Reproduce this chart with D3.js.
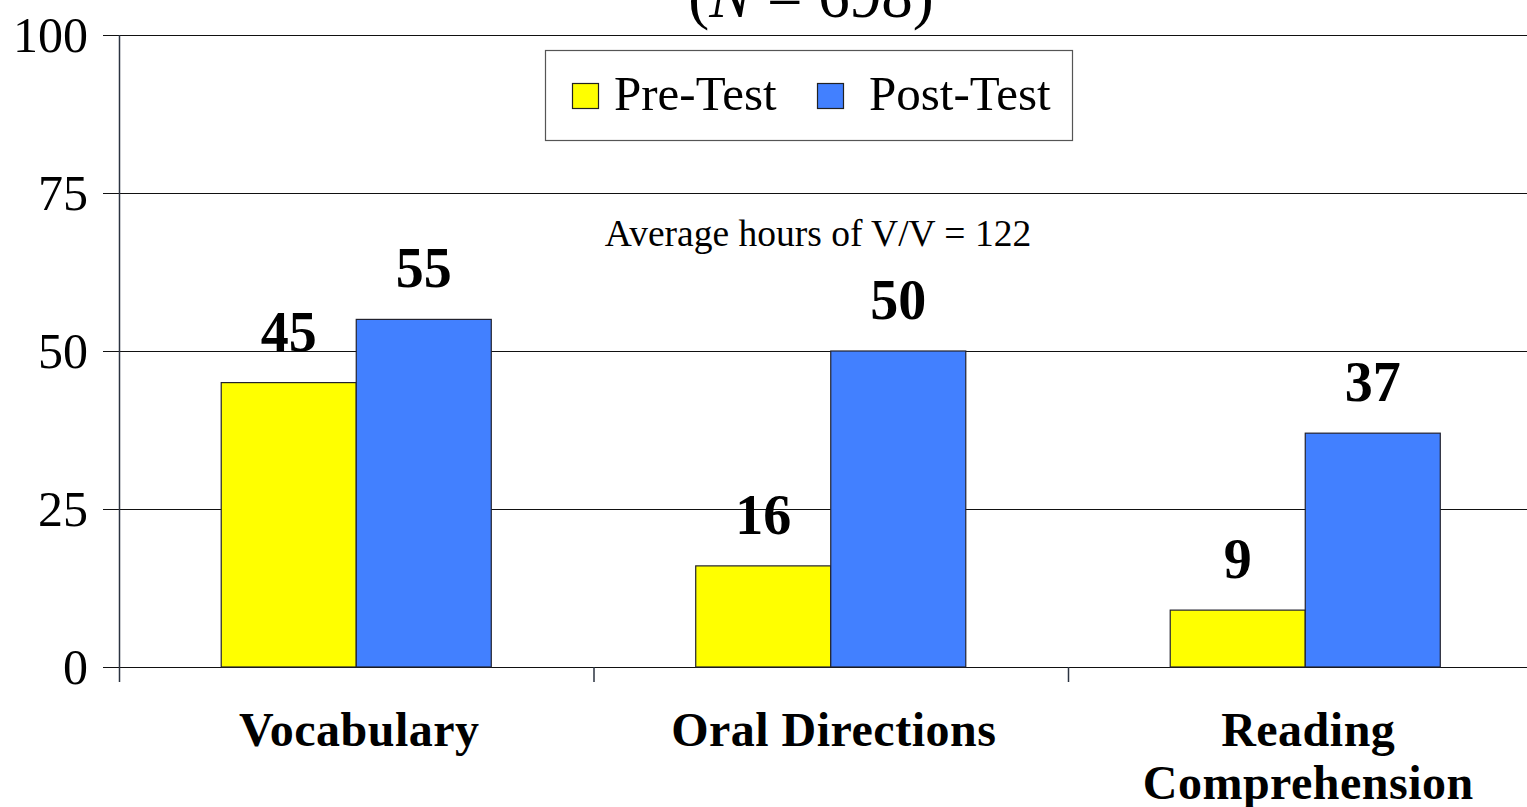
<!DOCTYPE html>
<html><head><meta charset="utf-8">
<script src="https://cdn.jsdelivr.net/npm/d3@7"></script>
<style>
html,body{margin:0;padding:0;background:#fff;overflow:hidden}
svg{display:block;font-family:"Liberation Serif","Times New Roman",serif}
</style></head>
<body><svg id="c" width="1527" height="807"></svg>
<script>
const categories = ["Vocabulary", "Oral Directions", "Reading\nComprehension"];
const series = ["Pre-Test", "Post-Test"];
const preTest = [45, 16, 9];
const postTest = [55, 50, 37];
const yTicks = [0, 25, 50, 75, 100];
const colors = ["#ffff00", "#4280ff"];
const note = "Average hours of V/V = 122";

(function () {
const svg = d3.select("#c");
const mLeft = 119, mTop = 35, mBottom = 667, step = 474.5;
const x = d3.scaleBand().domain(categories).range([mLeft, mLeft + step * categories.length]).padding(0);
const xs = d3.scaleBand().domain(series).range([0, x.bandwidth()]).paddingInner(0).paddingOuter(0.757);
const y = d3.scaleLinear().domain([0, 100]).range([mBottom, mTop]);

// title (partially cut off, as in the reference)
const t = svg.append("text").attr("x", 811).attr("y", 17).attr("text-anchor", "middle")
  .attr("font-size", 63);
t.append("tspan").text("(");
t.append("tspan").attr("font-style", "italic").text("N");
t.append("tspan").text(" = 698)");

// gridlines
svg.append("g").selectAll("line").data(yTicks).join("line")
  .attr("x1", mLeft - 16).attr("x2", 1527)
  .attr("y1", d => Math.round(y(d)) + 0.5).attr("y2", d => Math.round(y(d)) + 0.5)
  .attr("stroke", "#111").attr("stroke-width", 1.2);

// y tick labels
svg.append("g").selectAll("text").data(yTicks).join("text")
  .attr("x", 88).attr("y", d => y(d)).attr("dy", "0.33em")
  .attr("text-anchor", "end").attr("font-size", 50).text(d => d);

// bars
const data = [];
categories.forEach((c, i) => {
  data.push({c, s: series[0], v: preTest[i], k: 0});
  data.push({c, s: series[1], v: postTest[i], k: 1});
});
svg.append("g").selectAll("rect").data(data).join("rect")
  .attr("x", d => x(d.c) + xs(d.s)).attr("width", xs.bandwidth())
  .attr("y", d => y(d.v)).attr("height", d => y(0) - y(d.v))
  .attr("fill", d => colors[d.k]).attr("stroke", "#22222e").attr("stroke-width", 1.2);

// value labels
svg.append("g").selectAll("text").data(data).join("text")
  .attr("x", d => x(d.c) + xs(d.s) + xs.bandwidth() / 2)
  .attr("y", d => y(d.v) - 32)
  .attr("text-anchor", "middle").attr("font-size", 56).attr("font-weight", "bold")
  .text(d => d.v);

// axes lines
svg.append("line").attr("x1", mLeft + 0.5).attr("x2", mLeft + 0.5).attr("y1", mTop).attr("y2", mBottom + 15)
  .attr("stroke", "#2b3340").attr("stroke-width", 1.5);
svg.append("g").selectAll("line").data(categories.slice(1)).join("line")
  .attr("x1", d => x(d) + 0.5).attr("x2", d => x(d) + 0.5)
  .attr("y1", mBottom).attr("y2", mBottom + 15)
  .attr("stroke", "#2b3340").attr("stroke-width", 1.5);

// category labels
const cl = svg.append("g").selectAll("text").data(categories).join("text")
  .attr("text-anchor", "middle").attr("font-size", 48).attr("font-weight", "bold")
  .attr("letter-spacing", "0.5px");
cl.each(function(d) {
  const lines = d.split("\n");
  const el = d3.select(this);
  lines.forEach((ln, j) => {
    el.append("tspan").attr("x", x(d) + x.bandwidth() / 2 + 3).attr("y", 746 + j * 53).text(ln);
  });
});

// note
svg.append("text").attr("x", 818).attr("y", 246).attr("text-anchor", "middle")
  .attr("font-size", 37.5).text(note);

// legend
const lg = svg.append("g");
lg.append("rect").attr("x", 545.5).attr("y", 50.5).attr("width", 527).attr("height", 90)
  .attr("fill", "#fff").attr("stroke", "#555").attr("stroke-width", 1.2);
const lx = [572, 817], tx = [614, 869];
series.forEach((s, i) => {
  lg.append("rect").attr("x", lx[i] + 0.5).attr("y", 83.5).attr("width", 26).attr("height", 25)
    .attr("fill", colors[i]).attr("stroke", "#222").attr("stroke-width", 1.2);
  lg.append("text").attr("x", tx[i]).attr("y", 110).attr("font-size", 49).text(s);
});
})();
</script></body></html>
